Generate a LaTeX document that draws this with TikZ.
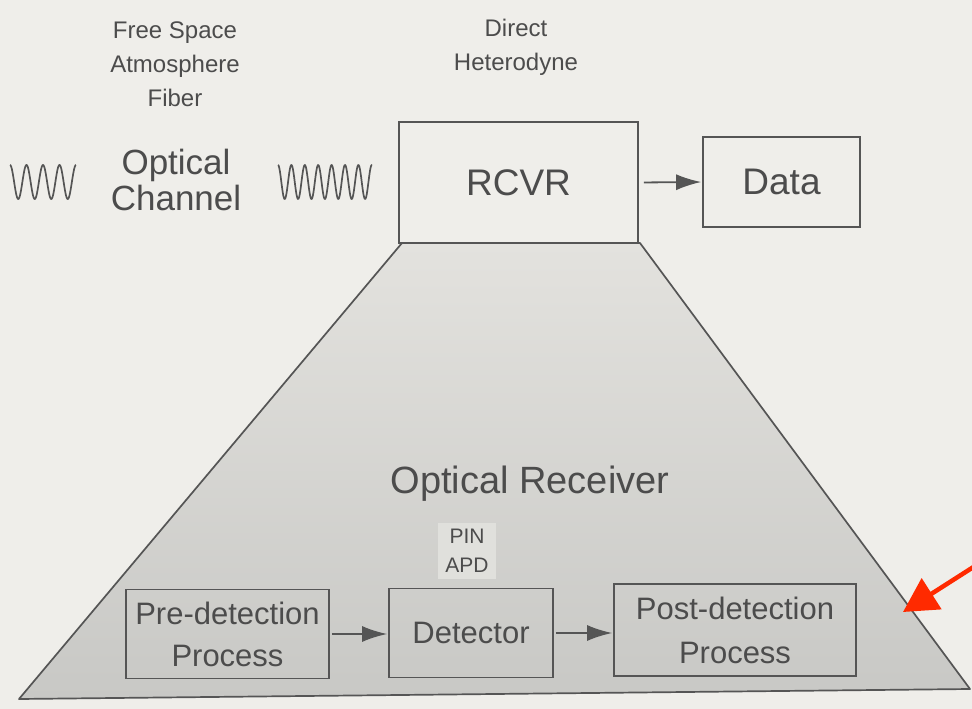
\documentclass[tikz,border=0pt]{standalone}
\usepackage{fontspec}
\setmainfont{Liberation Sans}
\usetikzlibrary{arrows.meta}
\definecolor{paper}{HTML}{EFEEEA}
\definecolor{ink}{HTML}{4C4C4C}
\definecolor{linec}{HTML}{555555}
\definecolor{traptop}{HTML}{E3E2DE}
\definecolor{trapbot}{HTML}{C8C8C5}
\definecolor{pinbg}{HTML}{E0E0DC}
\definecolor{redarr}{HTML}{FF2A00}
\begin{document}
\begin{tikzpicture}[x=1pt,y=-1pt,
  txt/.style={text=ink, inner sep=0pt, align=center},
  blk/.style={draw=linec, line width=1.7pt, text=ink, inner sep=0pt, align=center},
  arr/.style={draw=linec, line width=1.8pt, -{Latex[length=25pt,width=16pt]}},
  wave/.style={draw=linec, line width=1.7pt, line join=round}
]
\useasboundingbox (0,0) rectangle (972,709);
\fill[paper] (0,0) rectangle (972,709);
% trapezoid
\shade[top color=traptop, bottom color=trapbot] (402,243) -- (640,243) -- (970,689) -- (19,699) -- cycle;
\draw[linec, line width=1.7pt, line join=round] (402,243) -- (640,243) -- (970,689) -- (19,699) -- cycle;
% top labels
\node[txt, font=\fontsize{24}{34}\selectfont] (media) at (175,64) {Free Space\\Atmosphere\\Fiber};
\node[txt, font=\fontsize{24}{34}\selectfont] (mode) at (516,47) {Direct\\Heterodyne};
\node[txt, font=\fontsize{35}{36}\selectfont] (chan) at (176,180) {Optical\\Channel};
% waves
\draw[wave, domain=0:66, samples=200, smooth] plot ({10+\x}, {182-17*cos((\x/16.5)*360)});
\draw[wave, domain=0:94, samples=300, smooth] plot ({278+\x}, {182-17*cos((\x/13.4)*360)});
% boxes
\node[blk, minimum width=239pt, minimum height=121pt, font=\fontsize{37}{40}\selectfont] (rcvr) at (518.5,182.5) {RCVR};
\node[blk, minimum width=157pt, minimum height=90pt, font=\fontsize{37}{40}\selectfont] (data) at (781.5,182) {Data};
\draw[arr, shorten <=5pt, shorten >=1pt] (rcvr.east) -- (data.west);
\node[txt, font=\fontsize{38}{40}\selectfont] (orx) at (530,484) {Optical Receiver};
\node[txt, fill=pinbg, inner xsep=7pt, inner ysep=6pt, font=\fontsize{21}{29}\selectfont] (pin) at (467,551) {PIN\\APD};
\node[blk, minimum width=203pt, minimum height=89pt, font=\fontsize{31}{42}\selectfont] (pre) at (227.5,634) {Pre-detection\\Process};
\node[blk, minimum width=164pt, minimum height=89pt, font=\fontsize{31}{42}\selectfont] (det) at (471,633) {Detector};
\node[blk, minimum width=242pt, minimum height=92pt, font=\fontsize{31}{44}\selectfont] (post) at (735,630) {Post-detection\\Process};
\draw[arr, shorten <=2pt, shorten >=1pt] (pre.east) -- (pre.east -| det.west);
\draw[arr, shorten <=2pt, shorten >=1pt] (det.east) -- (det.east -| post.west);
% red arrow
\coordinate (rs) at (975,566);
\coordinate (rt) at (903,612);
\draw[redarr, line width=4.5pt, -{Triangle[length=34pt,width=36pt]}] (rs) -- (rt);
\end{tikzpicture}
\end{document}
